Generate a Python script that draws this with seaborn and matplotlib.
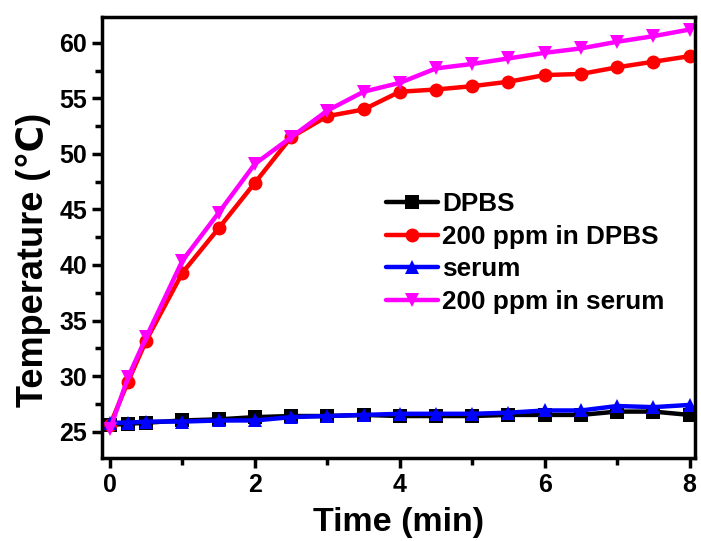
import pandas as pd
import matplotlib
matplotlib.use("Agg")
import matplotlib.pyplot as plt
import seaborn as sns
from matplotlib.ticker import MultipleLocator

# time points (min)
time = [0, 0.25, 0.5, 1, 1.5, 2, 2.5, 3, 3.5, 4, 4.5, 5, 5.5, 6, 6.5, 7, 7.5, 8]

# temperatures (C)
dpbs = [25.6, 25.7, 25.8, 26.0, 26.1, 26.3, 26.4, 26.4, 26.5, 26.4, 26.4, 26.4, 26.5, 26.5, 26.5, 26.8, 26.8, 26.5]
ppm_dpbs = [25.6, 29.5, 33.2, 39.3, 43.3, 47.4, 51.5, 53.4, 54.0, 55.6, 55.8, 56.1, 56.5, 57.1, 57.2, 57.8, 58.3, 58.8]
serum = [25.8, 25.8, 25.9, 25.9, 26.0, 26.0, 26.3, 26.4, 26.5, 26.6, 26.6, 26.6, 26.7, 26.9, 26.9, 27.3, 27.2, 27.4]
ppm_serum = [25.2, 29.9, 33.5, 40.4, 44.7, 49.1, 51.5, 53.9, 55.6, 56.4, 57.7, 58.1, 58.6, 59.1, 59.5, 60.1, 60.6, 61.2]

labels = ['DPBS', '200 ppm in DPBS', 'serum', '200 ppm in serum']
colors = ['#000000', '#FF0000', '#0000FF', '#FF00FF']
marks = ['s', 'o', '^', 'v']

df = pd.DataFrame({
    'time': time * 4,
    'temp': dpbs + ppm_dpbs + serum + ppm_serum,
    'sample': [l for l in labels for _ in time],
})

sns.set_style('ticks')
plt.rcParams['font.family'] = ['Liberation Sans', 'DejaVu Sans']
plt.rcParams['font.weight'] = 'bold'
for k in ['text.color', 'axes.labelcolor', 'xtick.color', 'ytick.color', 'axes.edgecolor']:
    plt.rcParams[k] = 'black'

fig = plt.figure(figsize=(7.01, 5.41), dpi=100)
ax = fig.add_axes([0.145, 0.153, 0.846, 0.815])

sns.lineplot(data=df, x='time', y='temp', hue='sample', style='sample',
             hue_order=labels, style_order=labels,
             palette=dict(zip(labels, colors)), markers=dict(zip(labels, marks)),
             dashes=False, linewidth=3.2, markersize=10, markeredgewidth=0,
             ax=ax)

ax.set_xlim(-0.115, 8.07)
ax.set_ylim(22.6, 62.3)
ax.xaxis.set_major_locator(MultipleLocator(2))
ax.xaxis.set_minor_locator(MultipleLocator(1))
ax.yaxis.set_major_locator(MultipleLocator(5))
ax.yaxis.set_minor_locator(MultipleLocator(2.5))
ax.tick_params(which='major', length=7, width=2.5, labelsize=18, direction='out')
ax.tick_params(which='minor', length=5, width=2.5, direction='out')
for lab in ax.get_xticklabels() + ax.get_yticklabels():
    lab.set_fontweight('bold')
for s in ax.spines.values():
    s.set_linewidth(2.5)

ax.set_xlabel('Time (min)', fontsize=24.5, fontweight='bold', labelpad=7)
ax.set_ylabel('Temperature (\u2103)', fontsize=26, fontweight='bold')
ax.yaxis.set_label_coords(-0.086, 0.45)

leg = ax.legend(loc='upper left', bbox_to_anchor=(0.449, 0.645), frameon=False,
                prop={'size': 18.8, 'weight': 'bold'}, handlelength=2.0,
                handletextpad=0.15, labelspacing=0.33, borderpad=0.2)

fig.savefig('out.png', dpi=100)
